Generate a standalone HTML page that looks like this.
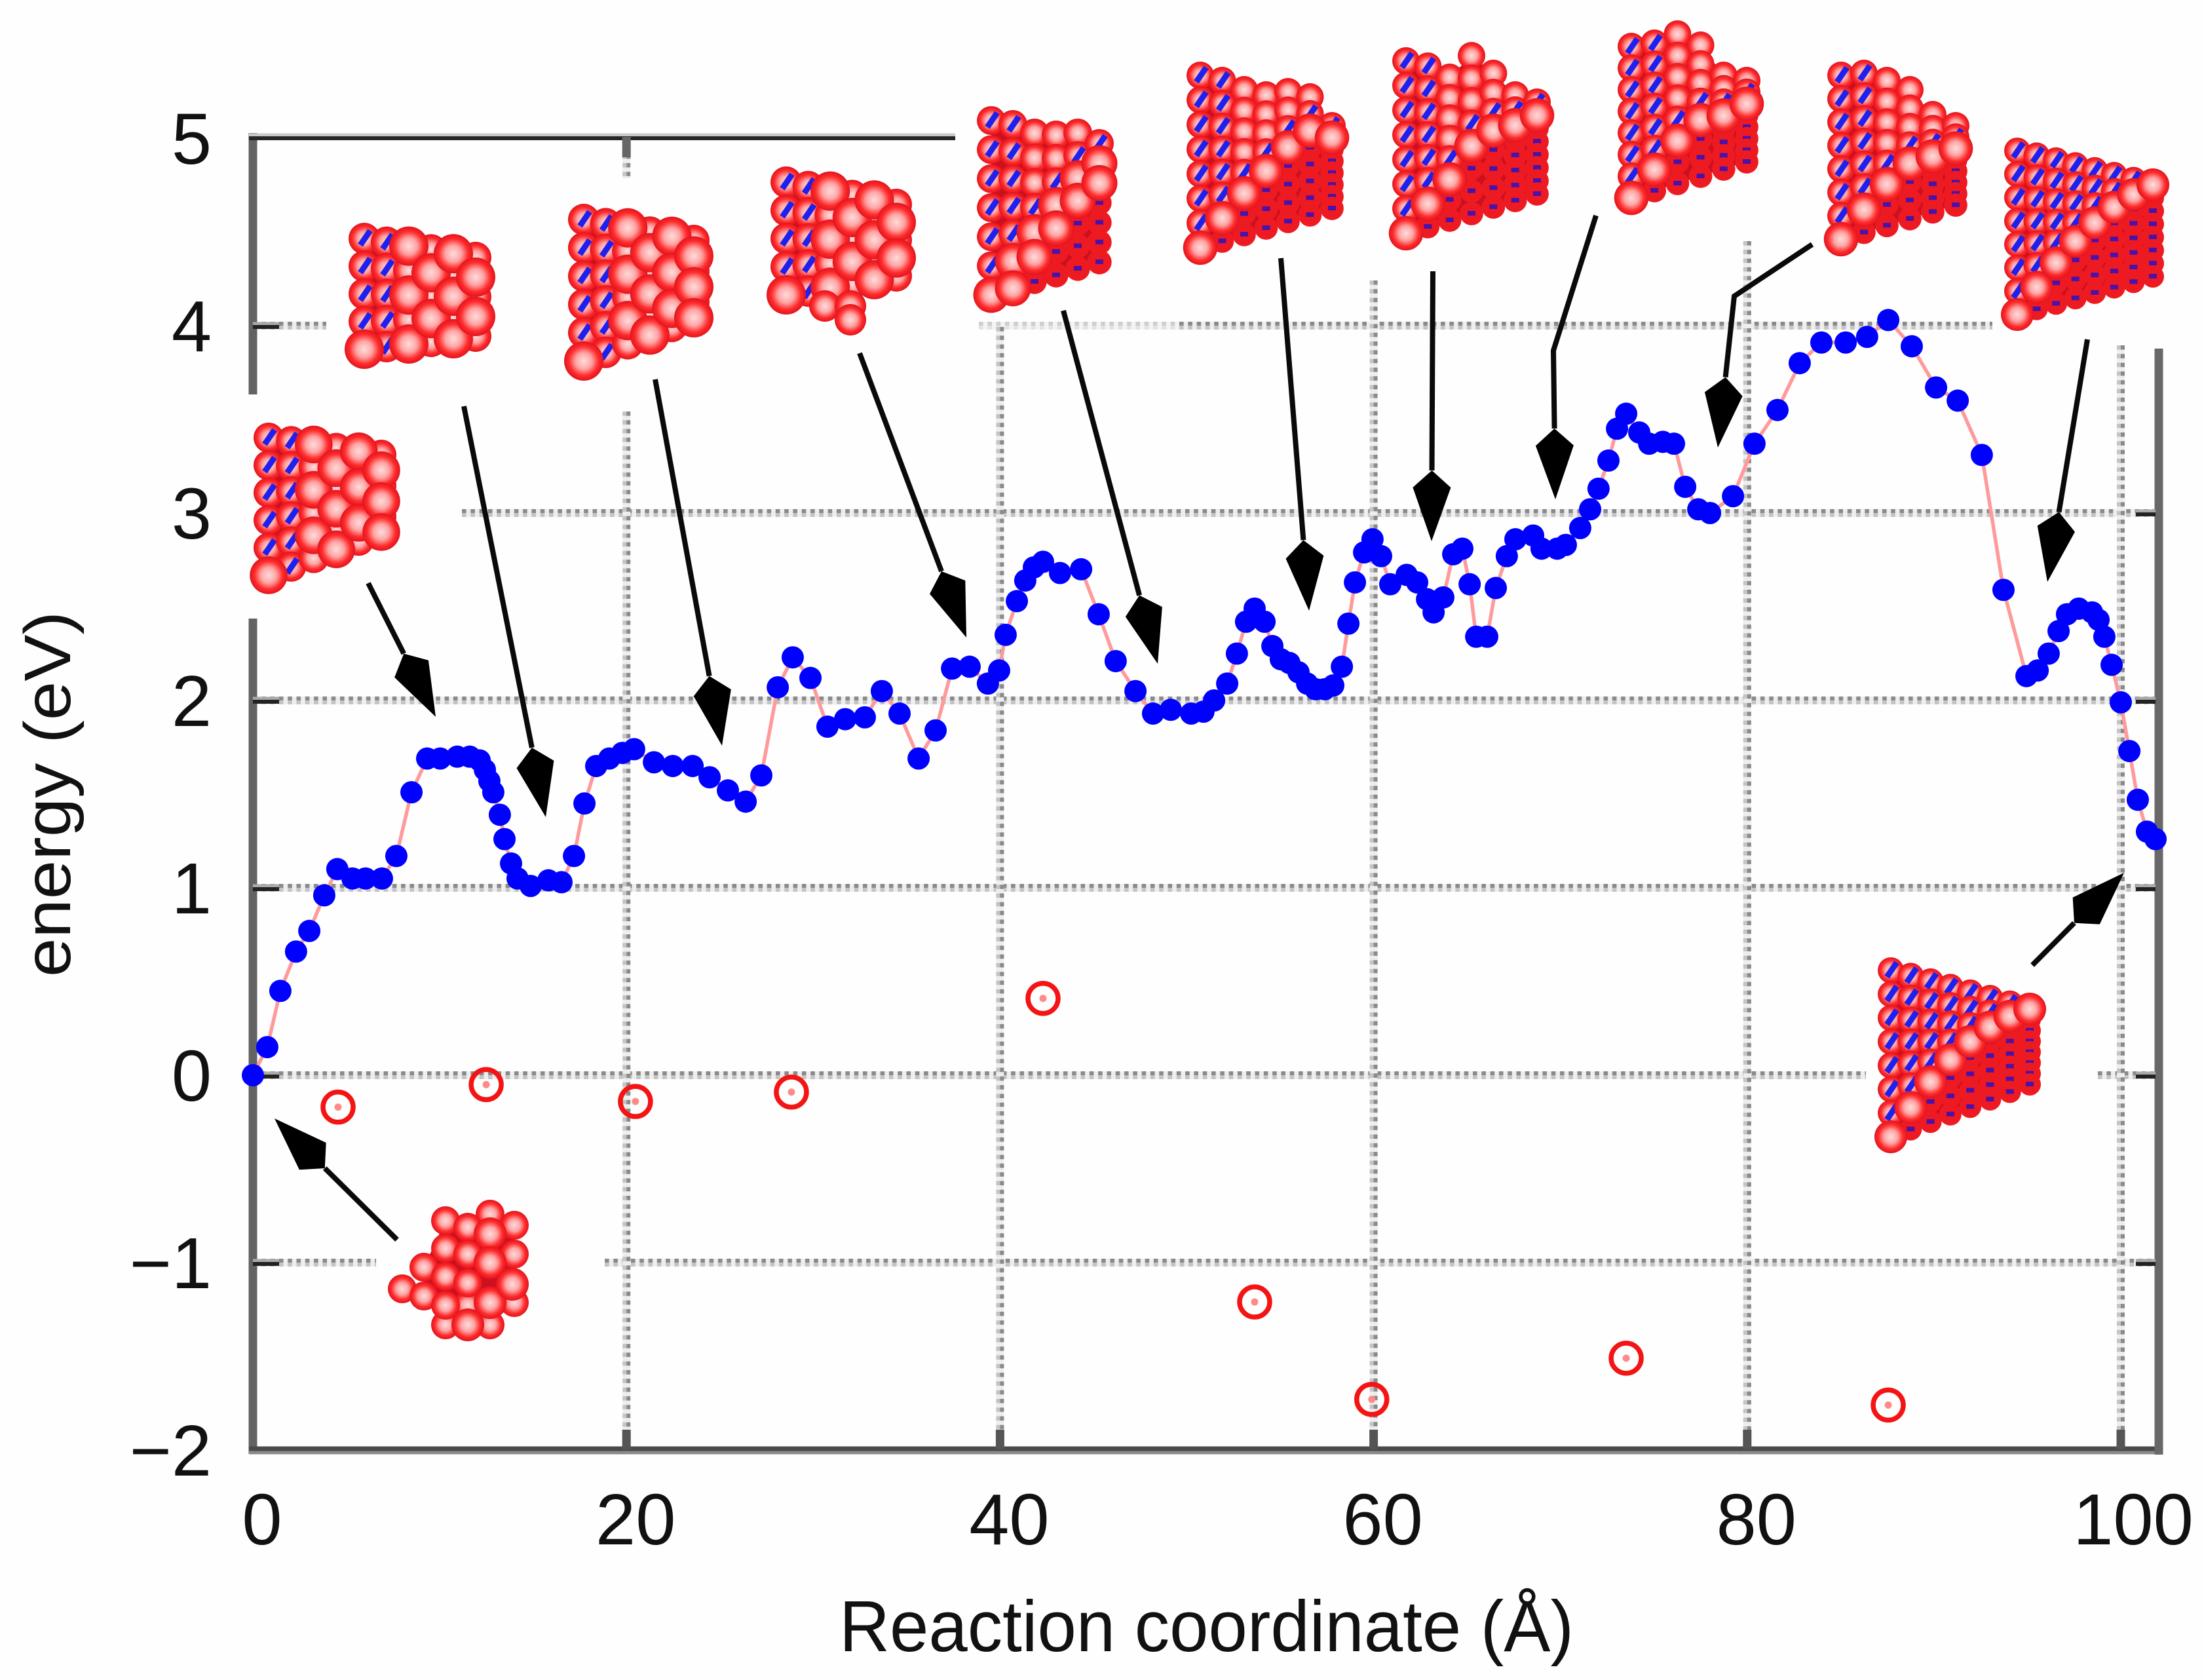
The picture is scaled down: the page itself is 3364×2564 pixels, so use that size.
<!DOCTYPE html>
<html>
<head>
<meta charset="utf-8">
<style>
html,body{margin:0;padding:0;background:#fff;}
svg{display:block;}
text{font-family:"Liberation Sans",sans-serif;fill:#111;}
</style>
</head>
<body>
<svg id="chart" xmlns="http://www.w3.org/2000/svg" width="3364" height="2564" viewBox="0 0 3364 2564">
<defs>
<radialGradient id="atom" cx="50%" cy="50%" r="52%">
<stop offset="0%" stop-color="#ffdcdc"/>
<stop offset="40%" stop-color="#ffa4a4"/>
<stop offset="72%" stop-color="#ff2c2c"/>
<stop offset="100%" stop-color="#dc101c"/>
</radialGradient>
</defs>
<rect width="3364" height="2564" fill="#fefefe"/>
<g id="grid"></g>
<g id="axes"></g>
<g id="ticklabels"></g>
<text x="1281" y="2520" font-size="110" textLength="1121" lengthAdjust="spacingAndGlyphs">Reaction coordinate (Å)</text>
<text transform="translate(107,1491) rotate(-90)" font-size="100" textLength="558" lengthAdjust="spacingAndGlyphs">energy (eV)</text>
<g id="series"></g>
<g id="minima"></g>
<g id="clusters"></g>
<g id="arrows"></g>
</svg>
<script>
const pathX = [0,.77,1.47,2.31,3.02,3.82,4.52,5.33,6.03,6.91,7.68,8.49,9.33,10.03,10.94,11.61,12.14,12.42,12.66,12.87,13.22,13.47,13.82,14.17,14.87,15.82,16.52,17.19,17.75,18.38,19.08,19.78,20.41,21.47,22.48,23.54,24.45,25.43,26.38,27.22,28.1,28.9,29.85,30.76,31.71,32.76,33.67,34.62,35.64,36.55,37.43,38.37,39.35,39.95,40.3,40.9,41.35,41.81,42.3,43.21,44.34,45.28,46.19,47.25,48.19,49.14,50.23,50.89,51.46,52.16,52.68,53.17,53.63,54.16,54.58,55.03,55.49,55.98,56.44,56.89,57.38,57.84,58.3,58.65,59,59.49,59.94,60.4,60.89,61.77,62.33,62.86,63.21,63.73,64.26,64.75,65.14,65.49,66.08,66.54,67.13,67.59,68.54,68.99,69.83,70.29,71.06,71.59,72.04,72.57,73.03,73.52,74.22,74.75,75.48,76.08,76.68,77.38,78.01,79.24,80.39,81.62,82.81,83.97,85.27,86.42,87.55,88.81,90.11,91.27,92.56,93.72,94.95,95.55,96.14,96.67,97.12,97.75,98.46,98.81,99.12,99.51,100,100.46,100.91,101.4,101.86];
const pathEnergy = [0,.15,.45,.66,.77,.96,1.1,1.05,1.05,1.05,1.17,1.51,1.69,1.69,1.7,1.7,1.68,1.63,1.57,1.51,1.39,1.26,1.13,1.05,1.01,1.04,1.03,1.17,1.45,1.65,1.69,1.72,1.74,1.67,1.65,1.65,1.59,1.52,1.46,1.6,2.07,2.23,2.12,1.86,1.9,1.91,2.05,1.93,1.69,1.84,2.17,2.18,2.09,2.16,2.35,2.53,2.64,2.71,2.74,2.68,2.7,2.46,2.21,2.05,1.93,1.95,1.93,1.94,2,2.09,2.25,2.42,2.49,2.42,2.29,2.22,2.2,2.15,2.09,2.06,2.06,2.08,2.18,2.41,2.63,2.79,2.86,2.77,2.62,2.67,2.63,2.54,2.47,2.55,2.78,2.81,2.62,2.34,2.34,2.6,2.77,2.86,2.88,2.81,2.81,2.83,2.92,3.02,3.13,3.28,3.45,3.53,3.43,3.37,3.38,3.37,3.14,3.02,3,3.09,3.37,3.55,3.8,3.91,3.91,3.94,4.03,3.89,3.67,3.6,3.31,2.59,2.13,2.16,2.25,2.37,2.46,2.49,2.47,2.43,2.34,2.19,1.99,1.73,1.47,1.3,1.26];
const minimaX = [4.56,12.49,20.48,28.83,42.3,53.63,59.9,73.52,87.55];
const minimaEnergy = [-.17,-.05,-.14,-.09,.41,-1.21,-1.73,-1.51,-1.76];
const xTicks = [0,20,40,60,80,100];
const yTicks = [-2,-1,0,1,2,3,4,5];
const xTickLabels = ["0","20","40","60","80","100"];
const yTickLabels = ["−2","−1","0","1","2","3","4","5"];

const NS = "http://www.w3.org/2000/svg";
function sx(v){return 386 + v*28.51;}
function sy(v){return 1641 - v*286;}
function mk(parent,tag,attrs){
  const el = document.createElementNS(NS,tag);
  for(const k in attrs) el.setAttribute(k,attrs[k]);
  parent.appendChild(el);
  return el;
}
const grid = document.getElementById('grid');
const axes = document.getElementById('axes');
const labels = document.getElementById('ticklabels');
const series = document.getElementById('series');
const minima = document.getElementById('minima');
const clusters = document.getElementById('clusters');
const arrows = document.getElementById('arrows');

function dotted(x1,y1,x2,y2,fade){
  const horiz = y1===y2;
  const ox = horiz ? 0 : 3;
  const oy = horiz ? 3 : 0;
  const bg = mk(grid,'line',{x1:x1,y1:y1,x2:x2,y2:y2,stroke:'#eeeeee','stroke-width':12,opacity:fade?0.6:1});
  
  
  const light = mk(grid,'line',{x1:x1-(horiz?0:ox),y1:y1+(horiz?oy:0),x2:x2-(horiz?0:ox),y2:y2+(horiz?oy:0),stroke:'#c4c4c4','stroke-width':6,'stroke-dasharray':'6.6 6.7',opacity:fade?0.35:1});
  
  
  const dark = mk(grid,'line',{x1:x1+(horiz?0:ox),y1:y1-(horiz?oy:0),x2:x2+(horiz?0:ox),y2:y2-(horiz?oy:0),stroke:'#8a8a8a','stroke-width':6,'stroke-dasharray':'6.6 6.7',opacity:fade?0.35:1});
  
  
}
function gridH(v,from,to,fade){dotted(from,sy(v),to,sy(v),fade);}
function gridV(v,from,to){dotted(sx(v),from,sx(v),to);}
gridH(4,386,498);
gridH(4,1494,1800,true);
gridH(4,1800,3041);
gridH(3,705,3293);
gridH(2,386,3293);
gridH(1,386,3293);
gridH(0,386,2848);
gridH(0,3202,3293);
gridH(-1,386,574);
gridH(-1,923,3293);
gridV(20,209,272);
gridV(20,628,2212);
gridV(40,499,2212);
gridV(60,428,2212);
gridV(80,368,2212);
gridV(100,527,2212);

function axisLine(x1,y1,x2,y2,w,c){
  const el = mk(axes,'line',{x1:x1,y1:y1,x2:x2,y2:y2,stroke:c||'#636363','stroke-width':w||13});
  
  
}
axisLine(386,203,386,602);
axisLine(386,944,386,2219);
axisLine(380,206,1458,206,5,'#c8c8c8');
axisLine(380,211,1458,211,6,'#262626');
axisLine(380,2211,3300,2211,7,'#4a4a4a');
axisLine(380,2217,3300,2217,5,'#8a8a8a');
axisLine(3295,532,3295,2220,13,'#686868');
yTicks.forEach(function(v){
  if(v>-2 && v<5 && v!==3){
    axisLine(386,sy(v)-3,sx(0)+40,sy(v)-3,5,'#aaa');
    axisLine(386,sy(v)+2,sx(0)+40,sy(v)+2,6,'#222');
  }
  if(v>-2 && v<4){
    axisLine(3260,sy(v)-3,3290,sy(v)-3,5,'#aaa');
    axisLine(3260,sy(v)+2,3290,sy(v)+2,6,'#222');
  }
});
xTicks.forEach(function(v){
  if(v>0){
    axisLine(sx(v),2182,sx(v),2212,13,'#555');
  }
  if(v===20){
    axisLine(sx(v),209,sx(v),240,13,'#666');
  }
});
xTicks.forEach(function(v,i){
  const extra = xTickLabels[i].length===3 ? 19 : 14;
  const t = mk(labels,'text',{x:sx(v)+extra,y:2357,'font-size':110,'text-anchor':'middle'});
  
  
  t.textContent = xTickLabels[i];
});
yTicks.forEach(function(v,i){
  const t = mk(labels,'text',{x:323,y:sy(v)+39,'font-size':110,'text-anchor':'end'});
  
  
  t.textContent = yTickLabels[i];
});

const pts = pathX.map(function(x,i){return sx(x)+','+sy(pathEnergy[i]);}).join(' ');
const curve = mk(series,'polyline',{points:pts,fill:'none',stroke:'#ff9a9a','stroke-width':5.5,'stroke-linejoin':'round'});


pathX.forEach(function(x,i){
  const c = mk(series,'circle',{cx:sx(x),cy:sy(pathEnergy[i]),r:17,fill:'#0000ff'});
  
  
});
minimaX.forEach(function(x,i){
  const ring = mk(minima,'circle',{cx:sx(x),cy:sy(minimaEnergy[i]),r:23,fill:'none',stroke:'#f41414','stroke-width':7.5});
  
  
  const dot = mk(minima,'circle',{cx:sx(x),cy:sy(minimaEnergy[i]),r:5.5,fill:'#ff8a8a'});
  
  
});

function atom(g,x,y,r){
  const c = mk(g,'circle',{cx:x,cy:y,r:r,fill:'url(#atom)'});
  
  
}
function slash(g,x,y){
  const s = mk(g,'line',{x1:x-6,y1:y+10,x2:x+9,y2:y-12,stroke:'#2020ee','stroke-width':9});
  
  
}
function stripe(g,x,y,r){
  const c = mk(g,'circle',{cx:x,cy:y,r:r,fill:'#ee1a22'});
  
  
  const b = mk(g,'rect',{x:x-6,y:y-4,width:12,height:7,fill:'#4a12a8'});
  
  
}
function drawCluster(name,o){
  const g = mk(clusters,'g',{});
  
  
  const outline = [];
  const lower = [];
  for(let i=0;i<o.cols;i++){
    const u=i/(o.cols-1);
    const x=o.x0+(o.x1-o.x0)*u;
    const top=o.tops ? o.tops[i] : o.tl+(o.tr-o.tl)*u;
    const bot=o.bl+(o.br-o.bl)*u;
    outline.push(x+','+top);
    lower.unshift(x+','+bot);
  }
  const poly = mk(g,'polygon',{points:outline.concat(lower).join(' '),fill:'#cc1020'});
  
  
  const back=[],normal=[],front=[];
  for(let i=0;i<o.cols;i++){
    const u=i/(o.cols-1);
    const x=o.x0+(o.x1-o.x0)*u;
    const top=o.tops ? o.tops[i] : o.tl+(o.tr-o.tl)*u;
    const bot=o.bl+(o.br-o.bl)*u;
    for(let j=0;j<o.rows;j++){
      const y=top+(bot-top)*j/(o.rows-1);
      const k=o.rows-1-j;
      const f=k-i;
      if(i===0 && k===0){front.push([x,y]);}
      else if(o.stripes!==undefined && f<-o.stripes){back.push([x,y]);}
      else if(o.stripes!==undefined && f<=0){front.push([x,y]);}
      else{
        const blue = o.blueAll || i<o.blueCols || (o.stripes!==undefined && f===1);
        if(o.stripes===undefined && i>=2 && (i+j)%2===0){front.push([x,y]);}
        else{normal.push([x,y,blue]);}
      }
    }
  }
  back.forEach(function(a){stripe(g,a[0],a[1],o.r*0.85);});
  normal.forEach(function(a){
    atom(g,a[0],a[1],o.r);
    if(a[2]) slash(g,a[0],a[1]);
  });
  front.forEach(function(a){atom(g,a[0],a[1],o.r*1.25);});
  if(o.extra){o.extra.forEach(function(a){atom(g,a[0],a[1],o.r);});}
}
drawCluster('cluster-a',{x0:410,x1:582,tl:668,bl:878,tr:694,br:812,cols:6,rows:6,r:23,blueCols:2});
drawCluster('cluster-b',{x0:556,x1:726,tl:364,bl:533,tr:393,br:513,cols:6,rows:5,r:24,blueCols:2});
drawCluster('cluster-c',{x0:891,x1:1059,tl:335,bl:551,tr:367,br:485,cols:6,rows:6,r:24,blueCols:2});
drawCluster('cluster-d',{x0:1200,x1:1368,tl:278,bl:450,tr:312,br:421,cols:6,rows:5,r:24,blueCols:2,extra:[[1259,467],[1298,467],[1298,488]]});
drawCluster('cluster-e',{x0:1513,x1:1678,tops:[184,190,203,206,203,219],bl:450,br:400,cols:6,rows:7,r:22,blueCols:2,stripes:1});
drawCluster('cluster-f',{x0:1832,x1:2033,tops:[115,123,137,145,140,148,192],bl:378,br:318,cols:7,rows:8,r:21,blueCols:2,stripes:0});
drawCluster('cluster-g',{x0:2146,x1:2346,tops:[93,101,118,85,112,145,156],bl:356,br:296,cols:7,rows:8,r:21,blueCols:2,stripes:0});
drawCluster('cluster-h',{x0:2490,x1:2666,tops:[71,66,52,69,115,123],bl:302,br:247,cols:6,rows:8,r:21,blueCols:2,stripes:0});
drawCluster('cluster-i',{x0:2810,x1:2985,tops:[115,112,123,137,175,192],bl:365,br:313,cols:6,rows:8,r:21,blueCols:2,stripes:0});
drawCluster('cluster-j',{x0:3079,x1:3286,tl:230,bl:480,tr:282,br:422,cols:8,rows:8,r:20,blueCols:0,blueAll:true,stripes:0});
drawCluster('cluster-k',{x0:2886,x1:3098,tl:1481,bl:1735,tr:1540,br:1655,cols:8,rows:8,r:20,blueCols:0,blueAll:true,stripes:0});

(function(){
  const g = mk(clusters,'g',{});
  
  
  const body = mk(g,'polygon',{points:'680,1863 785,1870 785,1988 748,2022 680,2022 647,1978 647,1934',fill:'#cc1020'});
  
  
  [[748,1853],[680,2022],[748,2022],[785,1988],[714,1992],[614,1967],[647,1934],[647,1978],[680,1863],[680,1905],[680,1948],[680,1992],[714,1873],[714,1914],[714,1958],[785,1870],[785,1914]].forEach(function(a){atom(g,a[0],a[1],22);});
  [[748,1883],[748,1927],[748,1988],[782,1960],[714,2022]].forEach(function(a){atom(g,a[0],a[1],25);});
})();

function arrow(name,path){
  const g = mk(arrows,'g',{});
  
  
  const n = path.length;
  const tip = path[n-1], prev = path[n-2];
  const dx = tip[0]-prev[0], dy = tip[1]-prev[1], L = Math.hypot(dx,dy);
  const ux = dx/L, uy = dy/L, nx = -uy, ny = ux;
  const tail = [tip[0]-ux*108, tip[1]-uy*108];
  const sh = [tip[0]-ux*82, tip[1]-uy*82];
  const linePts = path.slice(0,n-1).concat([tail]).map(function(q){return q.join(',');}).join(' ');
  const shaft = mk(g,'polyline',{points:linePts,fill:'none',stroke:'#0a0a0a','stroke-width':8});
  
  
  const head = [tip,[sh[0]+nx*29,sh[1]+ny*29],tail,[sh[0]-nx*29,sh[1]-ny*29]].map(function(q){return q.join(',');}).join(' ');
  const kite = mk(g,'polygon',{points:head,fill:'#000'});
  
  
}
arrow('arrow-initial',[[606,1892],[419,1707]]);
arrow('arrow-a',[[562,890],[665,1094]]);
arrow('arrow-b',[[708,620],[833,1247]]);
arrow('arrow-c',[[1000,579],[1102,1138]]);
arrow('arrow-d',[[1312,539],[1475,973]]);
arrow('arrow-e',[[1623,474],[1767,1013]]);
arrow('arrow-f',[[1955,394],[1998,932]]);
arrow('arrow-g',[[2187,414],[2185,826]]);
arrow('arrow-h',[[2436,329],[2371,535],[2374,762]]);
arrow('arrow-i',[[2766,373],[2647,452],[2622,683]]);
arrow('arrow-j',[[3186,518],[3125,888]]);
arrow('arrow-k',[[3102,1473],[3242,1332]]);
</script>
</body>
</html>
